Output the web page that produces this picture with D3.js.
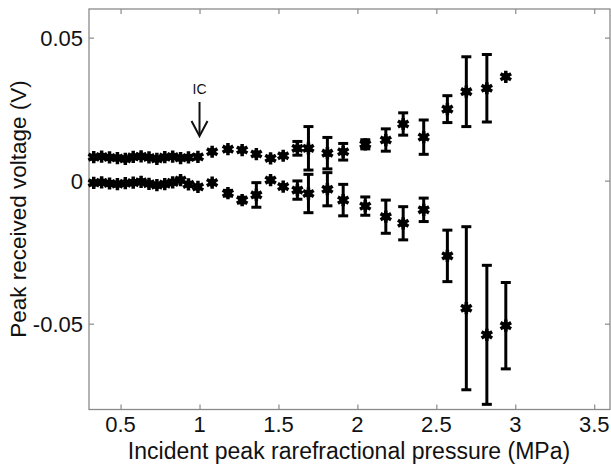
<!DOCTYPE html>
<html>
<head>
<meta charset="utf-8">
<script src="https://cdn.jsdelivr.net/npm/d3@7"></script>
<style>
  body { margin: 0; background: #fff; }
  text { font-family: "Liberation Sans", Arial, sans-serif; fill: #111; }
</style>
</head>
<body>
<div id="chart"></div>
<script>
// incident pressure (MPa) for each measurement
var pressure = [0.33, 0.38, 0.43, 0.48, 0.53, 0.58, 0.63, 0.68, 0.73, 0.78, 0.83, 0.88, 0.93, 0.99,
                1.08, 1.18, 1.27, 1.36, 1.45, 1.53, 1.62, 1.69, 1.81, 1.91, 2.05, 2.18, 2.29, 2.42,
                2.57, 2.69, 2.82, 2.94];
// upper trace (positive peak) and its std
var upper_peak = [0.0082, 0.0084, 0.0081, 0.0079, 0.0076, 0.0083, 0.0085, 0.0081, 0.0076, 0.0082, 0.0084, 0.0079, 0.0081, 0.0083,
                  0.0101, 0.0110, 0.0107, 0.0093, 0.0078, 0.0087, 0.0113, 0.0113, 0.0096, 0.0101, 0.0127, 0.0142, 0.0198, 0.0152,
                  0.0250, 0.0311, 0.0323, 0.0363];
var upper_err = [0, 0, 0, 0, 0, 0, 0, 0, 0, 0, 0, 0, 0, 0,
                 0, 0, 0, 0, 0, 0, 0.0024, 0.0076, 0.0055, 0.0029, 0.0016, 0.0039, 0.0039, 0.0060,
                 0.0047, 0.0122, 0.0118, 0];
// lower trace (negative peak) and its std
var lower_peak = [-0.0008, -0.0006, -0.0010, -0.0012, -0.0009, -0.0007, -0.0004, -0.0011, -0.0016, -0.0012, -0.0006, 0.0002, -0.0013, -0.0022,
                  -0.0007, -0.0044, -0.0068, -0.0050, 0.0002, -0.0021, -0.0033, -0.0045, -0.0030, -0.0068, -0.0089, -0.0126, -0.0149, -0.0102,
                  -0.0263, -0.0446, -0.0539, -0.0507];
var lower_err = [0, 0, 0, 0, 0, 0, 0, 0, 0, 0, 0, 0, 0, 0,
                 0, 0.0010, 0.0010, 0.0043, 0, 0, 0.0032, 0.0067, 0.0058, 0.0055, 0.0032, 0.0058, 0.0058, 0.0041,
                 0.0090, 0.0285, 0.0243, 0.0151];

var x_ticks = [0.5, 1, 1.5, 2, 2.5, 3, 3.5];
var x_tick_labels = ["0.5", "1", "1.5", "2", "2.5", "3", "3.5"];
var y_ticks = [0.05, 0, -0.05];
var y_tick_labels = ["0.05", "0", "-0.05"];
var ic_pressure = 1.0; // inertial cavitation threshold

var width = 611;
var height = 464;
// plot box (window.top is reserved, so prefixed names)
var box_l = 89, box_r = 610, box_t = 9, box_b = 409.5;

var svg = d3.select("#chart").append("svg")
    .attr("width", width)
    .attr("height", height);

svg.append("rect").attr("width", width).attr("height", height).attr("fill", "#fff");

var x = d3.scaleLinear().domain([0.3, 3.6]).range([box_l, box_r]);
var y = d3.scaleLinear().domain([-0.08, 0.06]).range([box_b, box_t]);

// box + inward ticks (matlab style)
var axisColor = "#8a8a8a";
svg.append("rect")
    .attr("x", box_l).attr("y", box_t)
    .attr("width", box_r - box_l).attr("height", box_b - box_t)
    .attr("fill", "none").attr("stroke", axisColor).attr("stroke-width", 1.3);

var xb = svg.append("g").attr("transform", "translate(0," + box_b + ")")
    .call(d3.axisBottom(x).tickValues(x_ticks).tickSize(-5).tickFormat(""));
var xt = svg.append("g").attr("transform", "translate(0," + box_t + ")")
    .call(d3.axisTop(x).tickValues(x_ticks).tickSize(-5).tickFormat(""));
var yl = svg.append("g").attr("transform", "translate(" + box_l + ",0)")
    .call(d3.axisLeft(y).tickValues(y_ticks).tickSize(-5).tickFormat(""));
var yr = svg.append("g").attr("transform", "translate(" + box_r + ",0)")
    .call(d3.axisRight(y).tickValues(y_ticks).tickSize(-5).tickFormat(""));
[xb, xt, yl, yr].forEach(function(a) {
    a.select(".domain").remove();
    a.selectAll("line").attr("stroke", axisColor).attr("stroke-width", 1.2);
});

// tick labels
svg.selectAll(".xlab").data(x_ticks).enter().append("text")
    .attr("x", function(d) { return x(d); })
    .attr("y", 432)
    .attr("text-anchor", "middle")
    .attr("font-size", 22)
    .text(function(d, i) { return x_tick_labels[i]; });

svg.selectAll(".ylab").data(y_ticks).enter().append("text")
    .attr("x", 83)
    .attr("y", function(d) { return y(d) + 8; })
    .attr("text-anchor", "end")
    .attr("font-size", 22)
    .text(function(d, i) { return y_tick_labels[i]; });

// axis titles
svg.append("text")
    .attr("x", 349).attr("y", 459)
    .attr("text-anchor", "middle")
    .attr("font-size", 23)
    .text("Incident peak rarefractional pressure (MPa)");

svg.append("text")
    .attr("transform", "translate(26,209) rotate(-90)")
    .attr("text-anchor", "middle")
    .attr("font-size", 22.5)
    .text("Peak received voltage (V)");

// error bars + markers for both traces
var star = d3.symbol().type(d3.symbolAsterisk).size(105);

function drawTrace(vals, errs) {
    var g = svg.append("g");
    for (var i = 0; i < pressure.length; i++) {
        var px = x(pressure[i]);
        if (errs[i] > 0) {
            var y0 = y(vals[i] - errs[i]), y1 = y(vals[i] + errs[i]);
            g.append("line").attr("x1", px).attr("x2", px).attr("y1", y0).attr("y2", y1)
                .attr("stroke", "#000").attr("stroke-width", 3);
            g.append("line").attr("x1", px - 5).attr("x2", px + 5).attr("y1", y0).attr("y2", y0)
                .attr("stroke", "#000").attr("stroke-width", 3);
            g.append("line").attr("x1", px - 5).attr("x2", px + 5).attr("y1", y1).attr("y2", y1)
                .attr("stroke", "#000").attr("stroke-width", 3);
        }
        g.append("circle").attr("cx", px).attr("cy", y(vals[i])).attr("r", 4).attr("fill", "#000");
        g.append("path")
            .attr("d", star())
            .attr("transform", "translate(" + px + "," + y(vals[i]) + ")")
            .attr("fill", "none")
            .attr("stroke", "#000")
            .attr("stroke-width", 3.5);
    }
}
drawTrace(upper_peak, upper_err);
drawTrace(lower_peak, lower_err);

// IC arrow
var icx = x(ic_pressure);
svg.append("text")
    .attr("x", icx).attr("y", 94)
    .attr("text-anchor", "middle")
    .attr("font-size", 14)
    .text("IC");
svg.append("line")
    .attr("x1", icx).attr("x2", icx).attr("y1", 102).attr("y2", 135)
    .attr("stroke", "#111").attr("stroke-width", 2);
svg.append("path")
    .attr("d", "M" + (icx - 8) + ",121 L" + icx + ",136 L" + (icx + 8) + ",121")
    .attr("fill", "none").attr("stroke", "#111").attr("stroke-width", 2);
</script>
</body>
</html>
